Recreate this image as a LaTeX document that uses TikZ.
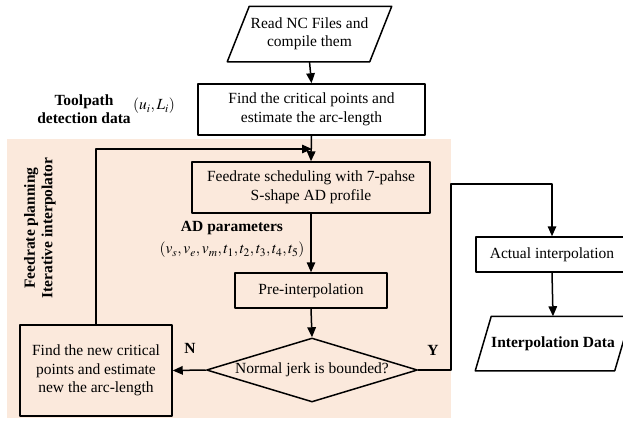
\documentclass[tikz,border=0pt]{standalone}
\usepackage{mathptmx}
\usepackage{fontspec}
\setmainfont{Liberation Serif}
\usetikzlibrary{arrows.meta,shapes.geometric}
\definecolor{peach}{RGB}{251,233,220}
\begin{document}
\begin{tikzpicture}[x=1pt,y=-1pt,>={Triangle[length=10pt,width=8.5pt]}, line width=1.5pt,
	font=\fontsize{15.5}{18.5}\selectfont, line join=round,
	box/.style={draw,rectangle,inner sep=0pt,align=center},
	iobox/.style={rectangle,inner sep=0pt,align=center},
	lab/.style={font=\fontsize{15.5}{18.5}\selectfont\bfseries,align=center}]
		\useasboundingbox (0,0) rectangle (623,423);
		\fill[color=peach] (7,139) rectangle (451,418);
		% boxes
		\node[iobox,minimum width=141,minimum height=54] (read) at (309.5,34) {Read NC Files and\\compile them};
		\draw ([xshift=11]read.north west) -- ([xshift=11]read.north east) -- ([xshift=-11]read.south east) -- ([xshift=-11]read.south west) -- cycle;
		\node[box,minimum width=227,minimum height=51] (crit) at (311.5,109.5) {Find the critical points and\\estimate the arc-length};
		\node[box,minimum width=238,minimum height=51] (feed) at (311,187.5) {Feedrate scheduling with 7-pahse\\S-shape AD profile};
		\node[box,minimum width=152,minimum height=35] (pre) at (311,290.5) {Pre-interpolation};
		\node[draw,diamond,inner sep=0pt,minimum width=211,minimum height=64] (dec) at (312,370) {\makebox[0pt]{Normal jerk is bounded?}};
		\node[box,minimum width=152,minimum height=91] (newc) at (96,370.5) {Find the new critical\\points and estimate\\new the arc-length};
		\node[box,minimum width=152,minimum height=35] (act) at (552,254.5) {Actual interpolation};
		\node[iobox,minimum width=138,minimum height=53] (idata) at (553,343.5) {\bfseries Interpolation Data};
		\draw ([xshift=8]idata.north west) -- ([xshift=8]idata.north east) -- ([xshift=-8]idata.south east) -- ([xshift=-8]idata.south west) -- cycle;
		% labels
		\node[lab] (tpd) at (84,109) {Toolpath\\detection data};
		\node (uil) at (154,106) {$(u_i,L_i)$};
		\node[lab] (adp) at (232,228) {AD parameters};
		\node (adv) at (232,250) {$(v_s,v_e,v_m,t_1,t_2,t_3,t_4,t_5)$};
		\node[lab,rotate=90,font=\fontsize{15.5}{17.5}\selectfont\bfseries] (fpl) at (40,228) {Feedrate planning\\Iterative interpolator};
		\node[lab] (nlab) at (190,348) {N};
		\node[lab] (ylab) at (433,350) {Y};
		% connectors
		\coordinate (mrg) at (312,149);
		\coordinate (ycorner) at (451,184);
		\draw[->] (read.south) -- (crit.north);
		\draw[->] (crit.south) -- (feed.north);
		\draw[->] (newc.north) |- (mrg);
		\draw[->] (feed.south) -- (pre.north);
		\draw[->] (pre.south) -- (dec.north);
		\draw[->] (dec.west) -- (newc.east);
		\draw[->] (dec.east) -| (ycorner) -| (act.north);
		\draw[->] (act.south) -- (idata.north);
\end{tikzpicture}
\end{document}
